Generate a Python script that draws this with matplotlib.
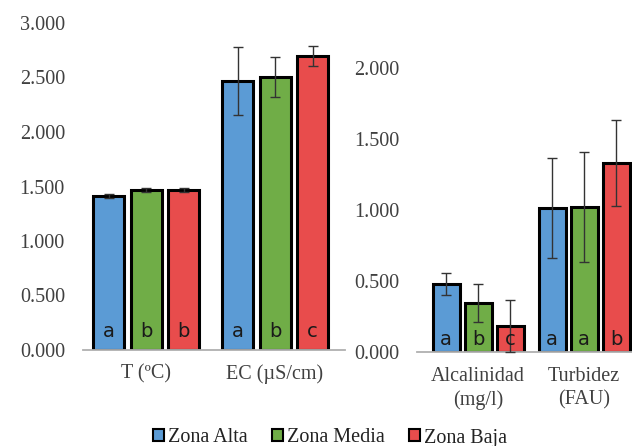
import matplotlib
matplotlib.use("Agg")
import matplotlib.pyplot as plt
from matplotlib.patches import Patch
from matplotlib.ticker import FormatStrFormatter
import numpy as np

series = ["Zona Alta", "Zona Media", "Zona Baja"]
colors = ["#5B9BD5", "#70AD47", "#E84C4C"]

left_cats = ["T (ºC)", "EC (µS/cm)"]
left_vals = [[1.413, 2.468], [1.468, 2.505], [1.468, 2.697]]
left_errs = [[0.02, 0.31], [0.02, 0.185], [0.015, 0.09]]
left_letters = [["a", "a"], ["b", "b"], ["b", "c"]]
left_ticks = [0.0, 0.5, 1.0, 1.5, 2.0, 2.5, 3.0]

right_cats = ["Alcalinidad\n(mg/l)", "Turbidez\n(FAU)"]
right_vals = [[0.479, 1.014], [0.345, 1.021], [0.183, 1.331]]
right_errs = [[0.08, 0.35], [0.137, 0.39], [0.18, 0.30]]
right_letters = [["a", "a"], ["b", "a"], ["c", "b"]]
right_ticks = [0.0, 0.5, 1.0, 1.5, 2.0]

W, H = 632, 446
fig = plt.figure(figsize=(W / 100, H / 100), dpi=100)

serif = "Liberation Serif"
txt_col = "#404040"


def px_axes(x0, x1, y_top, y_bot):
    return fig.add_axes([x0 / W, (H - y_bot) / H, (x1 - x0) / W, (y_bot - y_top) / H])


def draw_panel(ax, cats, vals, errs, letters, ticks, ymax, width, offset, xlim,
               letter_off, labelpad_y, labelpad_x):
    x = np.arange(len(cats))
    for i in range(3):
        xs = x + (i - 1) * offset
        ax.bar(xs, vals[i], width=width, color=colors[i], edgecolor="black",
               linewidth=2.2, zorder=2)
        ax.errorbar(xs, vals[i], yerr=errs[i], fmt="none", ecolor="#333333",
                    elinewidth=1, capsize=3.8, capthick=1, zorder=3, clip_on=False)
        for xv, lt in zip(xs, letters[i]):
            ax.annotate(lt, xy=(xv, 0), xytext=(0, letter_off),
                        textcoords="offset points", ha="center", va="center",
                        fontsize=14, family="DejaVu Sans", color="#1a1a1a", zorder=4)
    ax.set_xlim(*xlim)
    ax.set_ylim(0, ymax)
    ax.set_yticks(ticks)
    ax.yaxis.set_major_formatter(FormatStrFormatter("%.3f"))
    ax.set_xticks(x)
    ax.set_xticklabels(cats, family=serif, fontsize=14.5, color=txt_col,
                       linespacing=1.3)
    ax.tick_params(axis="y", length=0, pad=labelpad_y, labelsize=14.5,
                   labelcolor=txt_col)
    ax.tick_params(axis="x", length=0, pad=labelpad_x)
    for lab in ax.get_yticklabels():
        lab.set_family(serif)
    for s in ["left", "right", "top"]:
        ax.spines[s].set_visible(False)
    ax.spines["bottom"].set_color("#b0b0b0")
    ax.spines["bottom"].set_linewidth(1.3)
    ax.set_facecolor("none")


axL = px_axes(83, 345, 23, 350)
draw_panel(axL, left_cats, left_vals, left_errs, left_letters, left_ticks, 3.0,
           31 / 129, 37.5 / 129, ((83 - 146) / 129, (345 - 146) / 129),
           13, 13, 10)

axR = px_axes(417, 632, 68, 352)
draw_panel(axR, right_cats, right_vals, right_errs, right_letters, right_ticks, 2.0,
           27 / 106, 32 / 106, ((417 - 478) / 106, (632 - 478) / 106),
           9, 12.5, 11)

handles = [Patch(facecolor=c, edgecolor="black", linewidth=1.5) for c in colors]
fig.legend(handles, series, loc="center", bbox_to_anchor=(330 / W, 1 - 438 / H),
           ncol=3, frameon=False, prop={"family": serif, "size": 14.5},
           handlelength=0.55, handleheight=0.55, handletextpad=0.2,
           columnspacing=1.2, labelcolor="#222222")

fig.savefig("out.png", dpi=100)
